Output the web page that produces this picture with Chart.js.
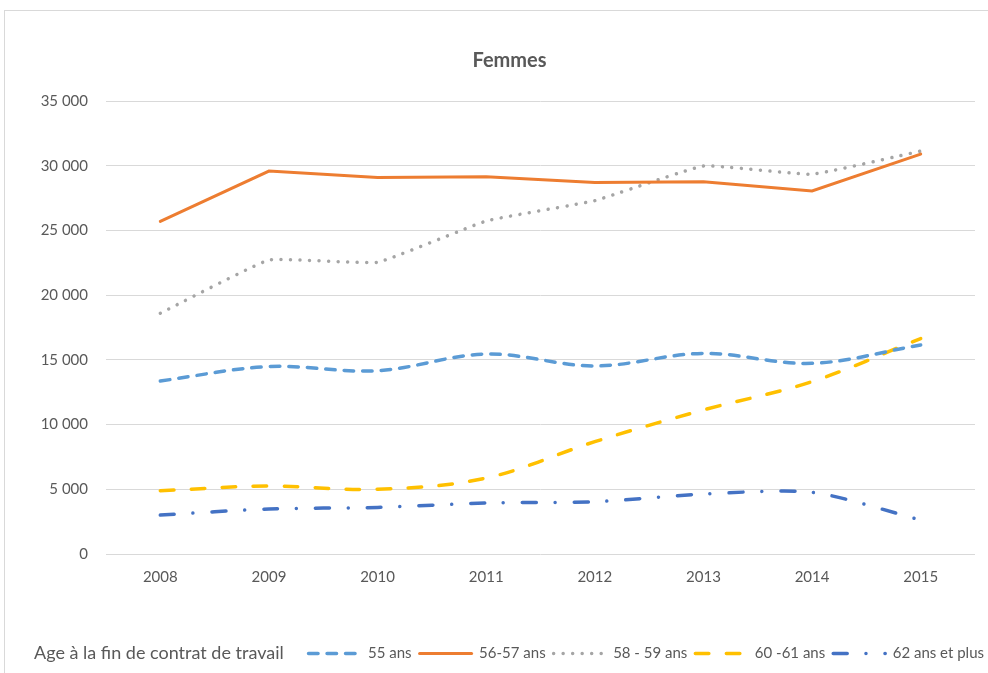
<!DOCTYPE html>
<html lang="fr">
<head>
<meta charset="utf-8">
<script src="https://cdn.jsdelivr.net/npm/chart.js@4.4.1/dist/chart.umd.min.js"></script>
<style>
  html, body { margin: 0; padding: 0; background: #fff; }
  body { width: 988px; height: 673px; position: relative; overflow: hidden; }
  #frame { position: absolute; left: 4px; top: 10px; width: 1000px; height: 700px; border: 1px solid #d9d9d9; }
  #wrap { position: absolute; left: 0; top: 0; width: 988px; height: 673px; }
</style>
</head>
<body>
<div id="frame"></div>
<div id="wrap"><canvas id="femmesChart"></canvas></div>
<script>
const years = ['2008', '2009', '2010', '2011', '2012', '2013', '2014', '2015'];
const ans55 = [13370, 14480, 14160, 15450, 14530, 15500, 14730, 16150];
const ans56_57 = [25700, 29590, 29080, 29150, 28700, 28770, 28050, 30900];
const ans58_59 = [18600, 22710, 22540, 25730, 27300, 29980, 29340, 31130];
const ans60_61 = [4890, 5250, 5000, 5870, 8680, 11130, 13320, 16650];
const ans62plus = [3010, 3480, 3600, 3940, 4040, 4630, 4770, 2630];
const legendTitle = 'Age à la fin de contrat de travail';

const textGrey = '#595959';
const fontFamily = 'Lato, "Open Sans", sans-serif';

// thousands with a plain space, like "35 000"
function frNumber(v) {
  return String(v).replace(/\B(?=(\d{3})+(?!\d))/g, ' ');
}

// legend title drawn inline, left of the items; legend pushed to the right edge,
// chart title centred a bit right like the original frame
const legendTitlePlugin = {
  id: 'legendTitle',
  beforeDraw(chart) {
    if (chart.legend) chart.legend.right = chart.width + 4;
    if (chart.titleBlock) chart.titleBlock.left = 44;
  },
  afterDraw(chart) {
    const boxes = chart.legend && chart.legend.legendHitBoxes;
    if (!boxes || !boxes.length) return;
    const y = boxes[0].top + boxes[0].height / 2;
    const ctx = chart.ctx;
    ctx.save();
    ctx.font = '18px ' + fontFamily;
    ctx.fillStyle = textGrey;
    ctx.textAlign = 'left';
    ctx.textBaseline = 'middle';
    ctx.fillText(legendTitle, 34, y);
    ctx.restore();
  }
};

const ctx = document.getElementById('femmesChart').getContext('2d');
const femmesChart = new Chart(ctx, {
  type: 'line',
  data: {
    labels: years,
    datasets: [
      {
        label: '55 ans',
        data: ans55,
        borderColor: '#5B9BD5',
        borderWidth: 3.5,
        borderDash: [9.5, 9],
        borderCapStyle: 'round',
        tension: 0.35
      },
      {
        label: '56-57 ans',
        data: ans56_57,
        borderColor: '#ED7D31',
        borderWidth: 3,
        borderCapStyle: 'round',
        tension: 0
      },
      {
        label: '58 - 59 ans',
        data: ans58_59,
        borderColor: '#A5A5A5',
        borderWidth: 3.5,
        borderDash: [0.01, 9.5],
        borderCapStyle: 'round',
        tension: 0.1
      },
      {
        label: '60 -61 ans',
        data: ans60_61,
        borderColor: '#FFC000',
        borderWidth: 3.5,
        borderDash: [13.5, 17.5],
        borderCapStyle: 'round',
        tension: 0.35
      },
      {
        label: '62 ans et plus',
        data: ans62plus,
        borderColor: '#4472C4',
        borderWidth: 3.5,
        borderDash: [14, 18.75, 0.01, 19],
        borderCapStyle: 'round',
        tension: 0.25
      }
    ]
  },
  options: {
    responsive: true,
    maintainAspectRatio: false,
    animation: false,
    layout: { padding: { left: 0, right: 13, top: 0, bottom: 2 } },
    elements: { point: { radius: 0, hoverRadius: 0 } },
    plugins: {
      title: {
        display: true,
        text: 'Femmes',
        color: textGrey,
        font: { family: fontFamily, size: 20, weight: 'bold' },
        padding: { top: 49, bottom: 28 }
      },
      legend: {
        display: true,
        position: 'bottom',
        align: 'end',
        labels: {
          usePointStyle: true,
          pointStyleWidth: 52,
          padding: 8,
          color: textGrey,
          font: { family: fontFamily, size: 15 },
          generateLabels: chart => chart.data.datasets.map((ds, i) => ({
            text: ds.label,
            datasetIndex: i,
            hidden: false,
            fontColor: textGrey,
            fillStyle: ds.borderColor,
            strokeStyle: ds.borderColor,
            lineWidth: ds.borderWidth,
            lineDash: ds.borderDash || [],
            lineCap: ds.borderCapStyle,
            pointStyle: 'line'
          }))
        }
      },
      tooltip: { enabled: false }
    },
    scales: {
      x: {
        offset: true,
        grid: { display: false, drawTicks: false },
        border: { display: false },
        ticks: {
          color: textGrey,
          font: { family: fontFamily, size: 15 },
          padding: 14,
          maxRotation: 0
        },
        afterFit: scale => { scale.height = 84; }
      },
      y: {
        min: 0,
        max: 35000,
        grid: { color: '#d9d9d9', lineWidth: 1, drawTicks: false },
        border: { display: false },
        ticks: {
          stepSize: 5000,
          color: textGrey,
          font: { family: fontFamily, size: 15 },
          padding: 18,
          callback: v => frNumber(v)
        },
        afterFit: scale => { scale.width = 106; }
      }
    }
  },
  plugins: [legendTitlePlugin]
});
</script>
</body>
</html>
